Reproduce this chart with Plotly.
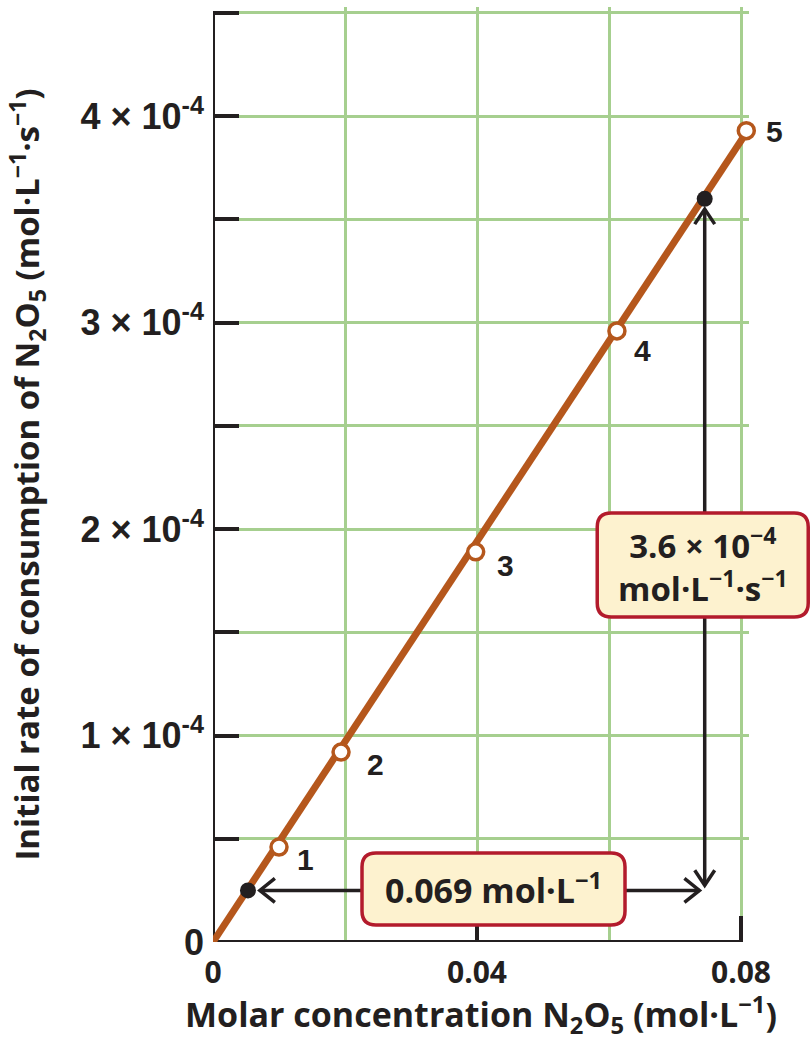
import plotly.graph_objects as go

# ---------------- data ----------------
pt_x = [0.0100, 0.0194, 0.0398, 0.0612, 0.0808]
pt_y = [0.46e-4, 0.92e-4, 1.89e-4, 2.96e-4, 3.93e-4]
pt_labels = ["1", "2", "3", "4", "5"]

fit_x = [0.0, 0.0808]
fit_y = [0.0, 3.92e-4]

dot_x = [0.0053, 0.0745]
dot_y = [0.25e-4, 3.60e-4]

h_arrow_x = [0.0071, 0.0737]   # horizontal arrow tips
h_arrow_y = 0.25e-4
v_arrow_x = 0.0745
v_arrow_y = [3.55e-4, 0.275e-4]  # vertical arrow tips (top, bottom)

x_ticks = [0, 0.04, 0.08]
x_ticktext = ["0", "0.04", "0.08"]
x_minor = [0.02, 0.06]
y_ticks = [0, 0.5e-4, 1e-4, 1.5e-4, 2e-4, 2.5e-4, 3e-4, 3.5e-4, 4e-4, 4.5e-4]
y_ticktext = ["0", "", "1 × 10<sup>-4</sup>", "", "2 × 10<sup>-4</sup>", "",
              "3 × 10<sup>-4</sup>", "", "4 × 10<sup>-4</sup>", ""]

box1_text = "0.069 mol·L<sup>−1</sup>"
box1_center = (0.0425, 0.257e-4)
box2_text = "3.6 × 10<sup>−4</sup><br>mol·L<sup>−1</sup>·s<sup>−1</sup>"
box2_center = (0.0742, 1.826e-4)

x_title = "Molar concentration N<sub>2</sub>O<sub>5</sub> (mol·L<sup>−1</sup>)"
y_title = "Initial rate of consumption of N<sub>2</sub>O<sub>5</sub> (mol·L<sup>−1</sup>·s<sup>−1</sup>)"

# ---------------- styles ----------------
X_AXIS_END = 0.08
Y_AXIS_END = 4.5e-4
X_RANGE = [0, 0.08121]
Y_RANGE = [0, 4.529e-4]
BROWN = "#b5571c"
GRID = "#a6cf8f"
DARK = "#231f20"
BOX_LINE = "#b31b2c"
BOX_FILL = "#fdf2cf"
TITLE_FONT = "Open Sans"
TICK_FONT = "Liberation Sans"
label_shift = [(26, -12), (34, -12), (30, -14), (26, -20), (28, -1)]


def rounded_rect(w, h, r):
    x0, x1, y0, y1 = -w / 2, w / 2, -h / 2, h / 2
    return (f"M {x0+r},{y0} L {x1-r},{y0} Q {x1},{y0} {x1},{y0+r} "
            f"L {x1},{y1-r} Q {x1},{y1} {x1-r},{y1} L {x0+r},{y1} "
            f"Q {x0},{y1} {x0},{y1-r} L {x0},{y0+r} Q {x0},{y0} {x0+r},{y0} Z")


def to_paper(x, y):
    return ((x - X_RANGE[0]) / (X_RANGE[1] - X_RANGE[0]),
            (y - Y_RANGE[0]) / (Y_RANGE[1] - Y_RANGE[0]))


fig = go.Figure()

shapes = [
    # axis lines
    dict(type="line", xref="x", yref="y", x0=0, x1=0, y0=0, y1=Y_AXIS_END,
         line=dict(color=DARK, width=4), layer="between"),
    dict(type="line", xref="x", yref="y", x0=0, x1=X_AXIS_END, y0=0, y1=0,
         line=dict(color=DARK, width=4), layer="between"),
    # arrow shafts
    dict(type="line", xref="x", yref="y", x0=h_arrow_x[0], x1=h_arrow_x[1],
         y0=h_arrow_y, y1=h_arrow_y, line=dict(color=DARK, width=3.5), layer="between"),
    dict(type="line", xref="x", yref="y", x0=v_arrow_x, x1=v_arrow_x,
         y0=v_arrow_y[0], y1=v_arrow_y[1], line=dict(color=DARK, width=3.5), layer="between"),
]
heads = [
    (h_arrow_x[0], h_arrow_y, "M 15,12 L 0,0 L 15,-12"),
    (h_arrow_x[1], h_arrow_y, "M -15,12 L 0,0 L -15,-12"),
    (v_arrow_x, v_arrow_y[0], "M -10,-15 L 0,0 L 10,-15"),
    (v_arrow_x, v_arrow_y[1], "M -10,15 L 0,0 L 10,15"),
]
for hx, hy, p in heads:
    shapes.append(dict(type="path", xref="x", yref="y", xsizemode="pixel", ysizemode="pixel",
                       xanchor=hx, yanchor=hy, path=p,
                       line=dict(color=DARK, width=3.5), layer="above"))

for (cx, cy), (w, h) in [(box1_center, (263, 72)), (box2_center, (211, 104))]:
    px, py = to_paper(cx, cy)
    shapes.append(dict(type="path", xref="paper", yref="paper", xsizemode="pixel",
                       ysizemode="pixel", xanchor=px, yanchor=py, path=rounded_rect(w, h, 14),
                       fillcolor=BOX_FILL, line=dict(color=BOX_LINE, width=3.5), layer="above"))

fig.add_trace(go.Scatter(x=fit_x, y=fit_y, mode="lines",
                         line=dict(color=BROWN, width=7),
                         hoverinfo="skip", showlegend=False))
fig.add_trace(go.Scatter(x=pt_x, y=pt_y, mode="markers",
                         marker=dict(size=16, color="white", line=dict(color=BROWN, width=3.5)),
                         cliponaxis=False, showlegend=False))
fig.add_trace(go.Scatter(x=dot_x, y=dot_y, mode="markers",
                         marker=dict(size=16, color=DARK), cliponaxis=False, showlegend=False))

annotations = []
for x, y, t, (dx, dy) in zip(pt_x, pt_y, pt_labels, label_shift):
    annotations.append(dict(x=x, y=y, xref="x", yref="y", text=t, showarrow=False,
                            xshift=dx, yshift=dy, xanchor="center", yanchor="middle",
                            font=dict(family=TICK_FONT, size=30, color=DARK, weight="bold")))
for (cx, cy), t, fs in [(box1_center, box1_text, 34), (box2_center, box2_text, 33)]:
    px, py = to_paper(cx, cy)
    annotations.append(dict(x=px, y=py, xref="paper", yref="paper", text=t, showarrow=False,
                            xanchor="center", yanchor="middle",
                            font=dict(family=TITLE_FONT, size=fs, color=DARK, weight="bold")))

fig.update_layout(
    width=811, height=1041,
    margin=dict(l=213, r=62, t=7, b=99),
    paper_bgcolor="white", plot_bgcolor="white",
    shapes=shapes, annotations=annotations,
    xaxis=dict(range=X_RANGE, tickvals=x_ticks, ticktext=x_ticktext,
               showgrid=True, gridcolor=GRID, gridwidth=3, zeroline=False, showline=False,
               ticks="inside", ticklen=26, tickwidth=4, tickcolor=DARK,
               ticklabelstandoff=10,
               tickfont=dict(family=TITLE_FONT, size=30, color=DARK, weight="bold"),
               minor=dict(tickvals=x_minor, showgrid=True, gridcolor=GRID, gridwidth=3, ticks=""),
               title=dict(text=x_title,
                          font=dict(family=TITLE_FONT, size=34, color=DARK, weight="bold"),
                          standoff=6)),
    yaxis=dict(range=Y_RANGE, tickvals=y_ticks, ticktext=y_ticktext,
               showgrid=True, gridcolor=GRID, gridwidth=3, zeroline=False, showline=False,
               ticks="inside", ticklen=26, tickwidth=4, tickcolor=DARK,
               ticklabelstandoff=8,
               tickfont=dict(family=TICK_FONT, size=36, color=DARK, weight="bold"),
               title=dict(text=y_title,
                          font=dict(family=TITLE_FONT, size=33, color=DARK, weight="bold"),
                          standoff=30)),
)

fig.write_html("out.html")
